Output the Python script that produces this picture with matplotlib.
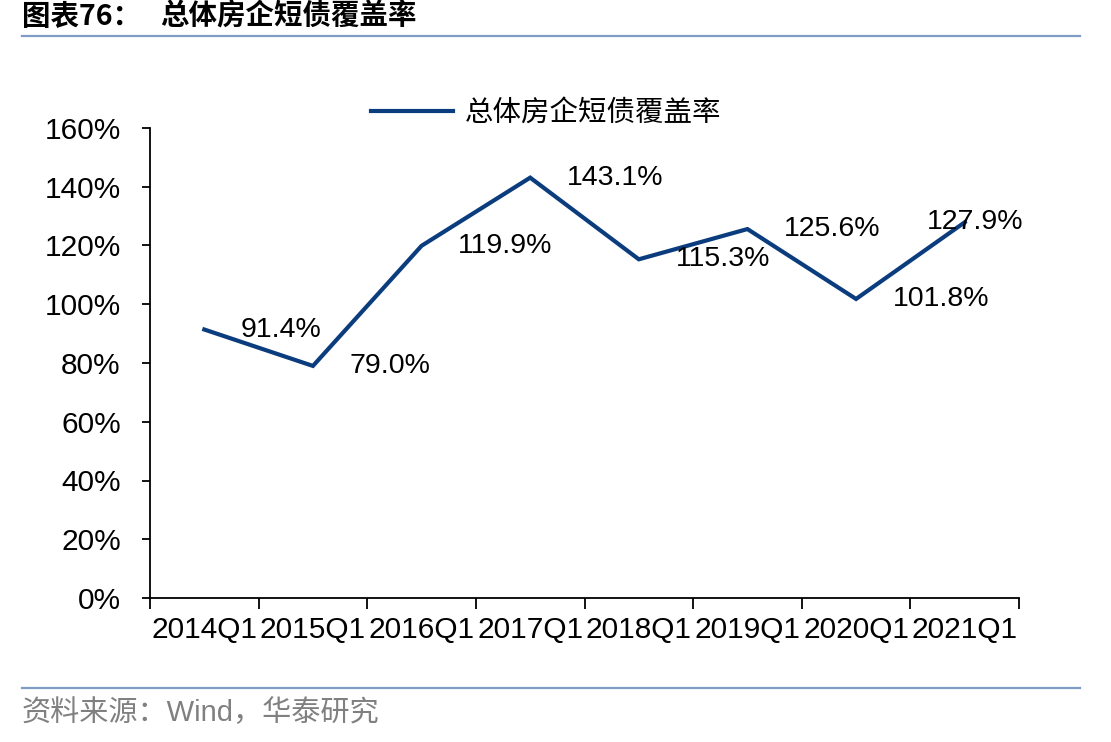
import matplotlib
matplotlib.use("Agg")
import matplotlib.pyplot as plt
from matplotlib.lines import Line2D

categories = ["2014Q1", "2015Q1", "2016Q1", "2017Q1", "2018Q1", "2019Q1", "2020Q1", "2021Q1"]
values = [91.4, 79.0, 119.9, 143.1, 115.3, 125.6, 101.8, 127.9]
series_name = "总体房企短债覆盖率"
yticks = [0, 20, 40, 60, 80, 100, 120, 140, 160]

FAM = ["Liberation Sans", "Noto Sans CJK SC", "DejaVu Sans"]
plt.rcParams["font.family"] = FAM

W, H = 1111, 742
fig = plt.figure(figsize=(W / 100, H / 100), dpi=100)
ax = fig.add_axes([150 / W, 1 - 598 / H, (1019 - 150) / W, (598 - 128) / H])

line_color = "#0B3D7E"
x = list(range(len(categories)))
ax.plot(x, values, color=line_color, lw=3.0, solid_joinstyle="miter")

ax.set_xlim(-0.5, len(categories) - 0.5)
ax.set_ylim(0, 160)
ax.set_yticks(yticks)
ax.set_yticklabels([f"{v}%" for v in yticks])

ax.set_xticks([i - 0.5 for i in range(len(categories) + 1)])
ax.set_xticklabels([])
ax.set_xticks(x, minor=True)
ax.set_xticklabels(categories, minor=True)
ax.tick_params(axis="x", which="major", direction="out", length=8, width=1.3, color="black")
ax.tick_params(axis="x", which="minor", length=0, pad=13, labelsize=21.5)
ax.tick_params(axis="y", direction="out", length=6, width=1.3, pad=15, labelsize=21.5)

for s in ["top", "right"]:
    ax.spines[s].set_visible(False)
for s in ["left", "bottom"]:
    ax.spines[s].set_linewidth(1.3)
    ax.spines[s].set_color("black")

for i, v in enumerate(values):
    if i == len(values) - 1:
        off = -27
    else:
        off = 26.5
    ax.annotate(f"{v:.1f}%", (i, v), xytext=(off, 0), textcoords="offset points",
                ha="left", va="center", fontsize=20.5, color="black")

handle = Line2D([0], [0], color=line_color, lw=3.0)
fig.legend([handle], [series_name], loc="center", bbox_to_anchor=(546 / W, 1 - 113 / H),
           frameon=False, handlelength=2.9, handletextpad=0.4,
           prop={"family": ["Noto Sans CJK SC"], "size": 20.5})

# title
fig.text(22 / W, 1 - 17 / H, "图表76：", fontsize=20.5, fontweight="bold",
         family=["Noto Sans CJK SC", "DejaVu Sans"], ha="left", va="center")
fig.text(160 / W, 1 - 17 / H, "总体房企短债覆盖率", fontsize=20.5, fontweight="bold",
         family=["Noto Sans CJK SC", "DejaVu Sans"], ha="left", va="center")

sep_color = "#7F9CC4"
fig.add_artist(Line2D([22 / W, 1080 / W], [1 - 36 / H, 1 - 36 / H], color=sep_color, lw=1.6))
fig.add_artist(Line2D([22 / W, 1080 / W], [1 - 688 / H, 1 - 688 / H], color=sep_color, lw=1.6))

fig.text(22 / W, 1 - 713 / H, "资料来源：Wind，华泰研究", fontsize=21, color="#808080",
         family=FAM, ha="left", va="center")

fig.savefig("out.png", dpi=100)
